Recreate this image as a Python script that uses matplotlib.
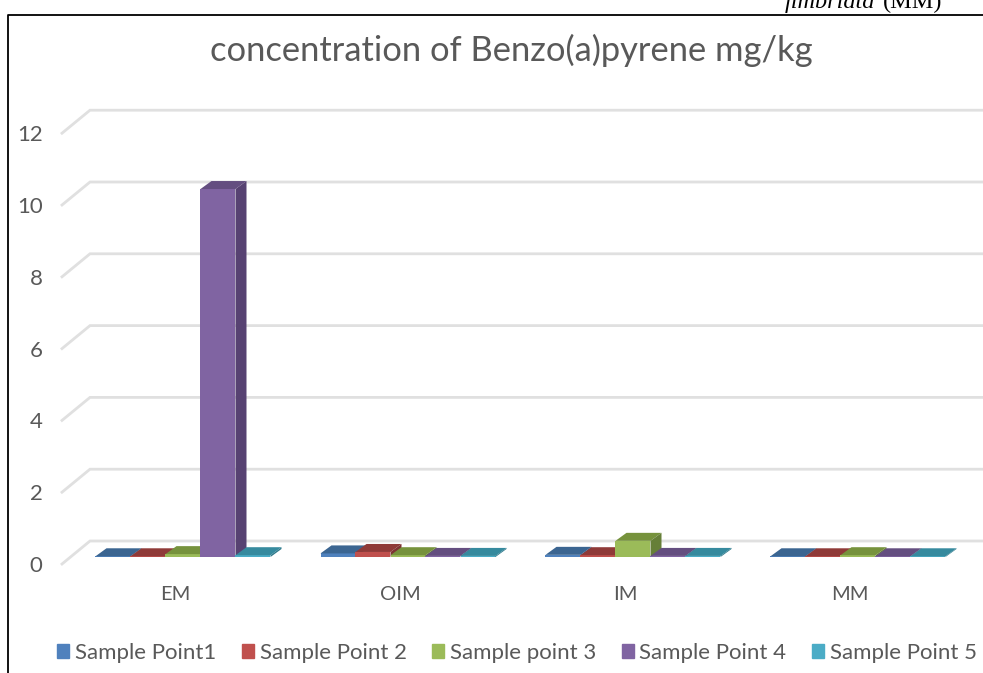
import matplotlib
matplotlib.use('Agg')
import matplotlib.pyplot as plt
from matplotlib.lines import Line2D
from matplotlib.patches import Rectangle

categories = ['EM', 'OIM', 'IM', 'MM']
series_names = ['Sample Point1', 'Sample Point 2', 'Sample point 3', 'Sample Point 4', 'Sample Point 5']
point1 = [0.02, 0.10, 0.06, 0.02]
point2 = [0.02, 0.14, 0.05, 0.02]
point3 = [0.08, 0.05, 0.45, 0.05]
point4 = [10.25, 0.03, 0.03, 0.02]
point5 = [0.05, 0.03, 0.03, 0.02]
all_series = [point1, point2, point3, point4, point5]

front_colors = ['#4f81bd', '#c0504d', '#9bbb59', '#8064a2', '#4bacc6']
top_colors = ['#3b6591', '#8f3a38', '#76923c', '#644e80', '#368a9e']
side_colors = ['#36597f', '#7d3432', '#667f38', '#574272', '#2f7a8c']
grey = '#595959'

W, H = 983, 673
fig = plt.figure(figsize=(W / 100, H / 100), dpi=100)
plt.rcParams['font.family'] = ['Lato', 'DejaVu Sans']

# axes = front plane of the chart, in pixels of the picture
ax = fig.add_axes([62 / W, 1 - 564 / H, (W - 62) / W, (564 - 110) / H])
px_x = 1 / 225      # one pixel in x data units
px_y = 1 / 35.9     # one pixel in y data units
ax.set_xlim((62 - 175) * px_x, (W - 175) * px_x)
ax.set_ylim(0, (564 - 110) * px_y)

# grid on floor and back wall
floor_x, floor_y = 28 * px_x, 23 * px_y
x0 = ax.get_xlim()[0]
x1 = ax.get_xlim()[1]
yticks = [0, 2, 4, 6, 8, 10, 12]
for v in yticks:
    ax.plot([x0, x0 + floor_x, x1], [v, v + floor_y, v + floor_y],
            color='#e0e0e0', lw=2, clip_on=False, zorder=1, solid_joinstyle='miter')

# bars with fake 3d, base sits a bit behind the front plane
base_x, base_y = 8 * px_x, 7 * px_y
depth_x, depth_y = 11 * px_x, 8 * px_y
bar_w = 35 * px_x
for i, vals in enumerate(all_series):
    for j, v in enumerate(vals):
        left = j + base_x + (i - 2.5) * bar_w
        right = left + bar_w
        bottom = base_y
        top = base_y + v
        ax.bar(left, v, width=bar_w, bottom=bottom, align='edge',
               color=front_colors[i], clip_on=False, zorder=3)
        ax.fill([left, right, right + depth_x, left + depth_x],
                [top, top, top + depth_y, top + depth_y],
                color=top_colors[i], lw=0, clip_on=False, zorder=3)
        ax.fill([right, right + depth_x, right + depth_x, right],
                [bottom, bottom + depth_y, top + depth_y, top],
                color=side_colors[i], lw=0, clip_on=False, zorder=3)

ax.set_xticks(range(len(categories)))
ax.set_xticklabels(categories)
ax.set_yticks(yticks)
ax.tick_params(axis='x', length=0, pad=16, labelsize=14.5, labelcolor=grey)
ax.tick_params(axis='y', length=0, pad=14, labelsize=16, labelcolor=grey)
for s in ax.spines.values():
    s.set_visible(False)
ax.patch.set_alpha(0)

handles = [Rectangle((0, 0), 1, 1, color=c) for c in front_colors]
fig.legend(handles, series_names, loc='center', bbox_to_anchor=(517 / W, 1 - 653 / H),
           ncol=5, frameon=False, fontsize=16, labelcolor=grey, handlelength=0.55,
           handleheight=0.55, handletextpad=0.25, columnspacing=1.15)

fig.text(511 / W, 1 - 50 / H, 'concentration of Benzo(a)pyrene mg/kg', ha='center', va='center',
         fontsize=24.8, color=grey)

# frame and cropped caption from the source page
fig.add_artist(Line2D([8 / W, 8 / W, 1], [0, 1 - 15 / H, 1 - 15 / H], color='black', lw=1.3))
fig.text(785 / W, 1 - 8 / H, 'fimbriata', ha='left', va='baseline', fontsize=17.5,
         family='Liberation Serif', style='italic', color='black')
fig.text(883 / W, 1 - 8 / H, '(MM)', ha='left', va='baseline', fontsize=17.5,
         family='Liberation Serif', color='black')

fig.savefig('out.png', dpi=100)
